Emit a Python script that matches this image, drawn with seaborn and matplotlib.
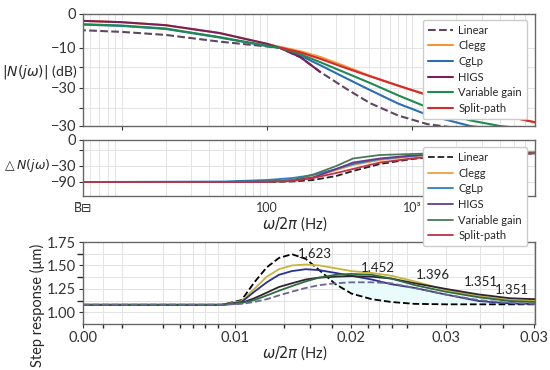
import numpy as np
import matplotlib
import matplotlib.pyplot as plt
import seaborn as sns
from matplotlib.ticker import FixedLocator, NullFormatter, LogLocator

matplotlib.use("Agg")

# --- data ---
names = ["Linear", "Clegg", "CgLp", "HIGS", "Variable gain", "Split-path"]

# magnitude (dB) vs frequency (Hz)
freq_mag = [5, 10, 20, 47, 100, 123, 170, 232, 350, 513, 800, 1270, 2500, 4000, 7000]
mag_linear = [-4.3, -4.8, -5.6, -7.4, -8.7, -9.1, -11.6, -15.5, -20.0, -23.9, -27.2, -29.5, -31, -31.5, -32]
mag_clegg = [-1.8, -2.2, -3.0, -5.1, -8.0, -8.8, -10.0, -11.5, -14.1, -16.6, -19.2, -21.7, -25, -27, -29]
mag_cglp = [-2.8, -3.2, -4.0, -6.3, -8.6, -9.1, -11.2, -13.7, -17.2, -20.4, -24.0, -27.0, -30, -31, -32]
mag_higs = [-1.8, -2.2, -3.0, -5.1, -8.0, -9.1, -11.6, -15.5, np.nan, np.nan, np.nan, np.nan, np.nan, np.nan, np.nan]
mag_vgain = [-2.7, -3.1, -3.9, -6.2, -8.5, -9.1, -10.8, -12.9, -15.8, -18.5, -21.8, -25.0, -28.5, -30, -31]
mag_split = [np.nan, np.nan, np.nan, np.nan, np.nan, -9.0, -10.3, -12.0, -14.5, -16.7, -19.2, -21.7, -25, -27, -29]

# phase vs frequency (Hz), in the panel's own units
freq_ph = [5, 50, 100, 150, 208, 300, 391, 600, 1000, 1270, 2000, 7000]
ph_linear = [-84, -84, -84, -83, -80, -72, -62, -48, -38, -35, -31, -27]
ph_clegg = [-84, -84, -83, -80, -74, -60, -50, -40, -33, -30, -28, -26]
ph_cglp = [-84, -83, -80, -76, -70, -58, -48, -38, -32, -29, -27, -25]
ph_higs = [-84, -84, -83, -81, -75, -58, -45, -37, -31, -30, -28, -26]
ph_vgain = [-84, -84, -83, -80, -69, -52, -37, -30, -28, -27, -26, -25]
ph_split = [-84, -84, -84, -82, -76, -66, -58, -45, -37, -34, -30, -27]

# step response (um) vs x
t_step = [0, 0.009, 0.0105, 0.0115, 0.0125, 0.0135, 0.0146, 0.0158, 0.017, 0.0185,
          0.02, 0.022, 0.024, 0.0265, 0.03, 0.034, 0.038, 0.0414]
st_linear = [1.08, 1.08, 1.13, 1.32, 1.48, 1.58, 1.62, 1.57, 1.45, 1.30, 1.20, 1.14, 1.11, 1.09, 1.085, 1.085, 1.085, 1.085]
st_clegg = [1.08, 1.08, 1.12, 1.25, 1.38, 1.46, 1.50, 1.51, 1.50, 1.47, 1.44, 1.42, 1.39, 1.33, 1.24, 1.17, 1.13, 1.12]
st_cglp = [1.08, 1.08, 1.11, 1.22, 1.32, 1.40, 1.44, 1.46, 1.45, 1.42, 1.39, 1.35, 1.30, 1.26, 1.19, 1.12, 1.095, 1.09]
st_higs = [1.08, 1.08, 1.10, 1.15, 1.21, 1.27, 1.31, 1.35, 1.37, 1.38, 1.385, 1.38, 1.36, 1.31, 1.25, 1.19, 1.15, 1.14]
st_vgain = [1.08, 1.08, 1.10, 1.13, 1.18, 1.23, 1.28, 1.33, 1.37, 1.40, 1.41, 1.40, 1.36, 1.29, 1.22, 1.16, 1.12, 1.11]
st_split = [1.08, 1.08, 1.09, 1.11, 1.14, 1.18, 1.22, 1.26, 1.29, 1.31, 1.32, 1.32, 1.31, 1.26, 1.19, 1.13, 1.10, 1.09]

peak_labels = ["1.623", "1.452", "1.396", "1.351", "1.351"]
peak_x = [0.0166, 0.0226, 0.0285, 0.0342, 0.0383]
peak_y = [1.625, 1.469, 1.396, 1.323, 1.24]

sns.set_theme(style="ticks")
plt.rcParams["font.family"] = ["Lato", "DejaVu Sans"]
plt.rcParams["mathtext.fontset"] = "dejavusans"

fig = plt.figure(figsize=(5.5, 3.7), dpi=100)
ax1 = fig.add_axes([0.1509, 0.6595, 0.8218, 0.3027])
ax2 = fig.add_axes([0.1509, 0.4703, 0.8218, 0.1514])
ax3 = fig.add_axes([0.1509, 0.1243, 0.8218, 0.2216])
ax2.set_zorder(3)

grid_c = "#e4e4e4"
spine_c = "#666666"
fs = 10.5
leg_kw = dict(fontsize=8, frameon=True, edgecolor="#cccccc", framealpha=1,
              handlelength=2.2, handletextpad=0.5, labelspacing=0.42,
              borderpad=0.45, borderaxespad=0)


def style_axes(ax):
    for s in ax.spines.values():
        s.set_color(spine_c)
        s.set_linewidth(1.0)
    ax.tick_params(colors="#333333", labelsize=fs, length=3, width=0.8, pad=2)
    ax.grid(True, which="both", color=grid_c, linewidth=0.7)
    ax.set_axisbelow(True)


# ---- magnitude ----
mag_cols = ["#5e4660", "#f5953a", "#2a6fb0", "#7a1f5e", "#1f8a50", "#d42a2a"]
mag_series = [mag_linear, mag_clegg, mag_cglp, mag_higs, mag_vgain, mag_split]
for name, vals, col in zip(names, mag_series, mag_cols):
    sns.lineplot(x=freq_mag, y=vals, ax=ax1, color=col, lw=1.5, label=name,
                 linestyle="--" if name == "Linear" else "-")
ax1.set_xscale("log")
ax1.set_xlim(5.4, 7000)
ax1.set_ylim(-30, 0)
ax1.set_yticks([0, -9.1, -14.2, -19.8, -25.2, -30])
ax1.set_yticklabels(["0", "\u221210", "", "\u221230", "", "\u221230"])
ax1.xaxis.set_minor_locator(LogLocator(subs=np.arange(2, 10)))
ax1.xaxis.set_major_formatter(NullFormatter())
ax1.xaxis.set_minor_formatter(NullFormatter())
ax1.tick_params(axis="x", which="both", length=0)
ax1.set_ylabel(r"$|N(j\omega)|$ (dB)", rotation=0, fontsize=fs - 0.5, ha="center", va="center")
ax1.yaxis.set_label_coords(-0.095, 0.48)
style_axes(ax1)
ax1.legend(loc="upper right", bbox_to_anchor=(0.982, 0.95), **leg_kw)

# ---- phase ----
ph_cols = ["#222222", "#eba040", "#2a80c0", "#6a3a8a", "#4a7a5a", "#c0304a"]
ph_series = [ph_linear, ph_clegg, ph_cglp, ph_higs, ph_vgain, ph_split]
for name, vals, col in zip(names, ph_series, ph_cols):
    sns.lineplot(x=freq_ph, y=vals, ax=ax2, color=col, lw=1.3, label=name,
                 linestyle="--" if name == "Linear" else "-")
ax2.set_xscale("log")
ax2.set_xlim(5.4, 7000)
ax2.set_ylim(-112, 0)
ax2.set_yticks([0, -20, -52, -84])
ax2.set_yticklabels(["0", "", "\u221230", "\u221290"])
ax2.xaxis.set_minor_locator(LogLocator(subs=np.arange(2, 10)))
ax2.xaxis.set_minor_formatter(NullFormatter())
ax2.set_xticks([5.4, 100, 1000])
ax2.set_xticklabels(["B\u0303\u229f", "100", "10\u00b3"])
ax2.set_ylabel(r"$\triangle N(j\omega)$", rotation=0, fontsize=9, ha="center", va="center")
ax2.yaxis.set_label_coords(-0.125, 0.55)
ax2.set_xlabel("")
style_axes(ax2)
ax2.tick_params(axis="x", which="both", length=0, labelsize=9, pad=4)
ax2.legend(loc="upper right", bbox_to_anchor=(0.982, 0.875), **leg_kw)
fig.text(295 / 550, 1 - 224 / 370, r"$\omega/2\pi$ (Hz)", fontsize=fs,
         ha="center", va="center")

# ---- step response ----
st_cols = ["black", "#c8b43c", "#2a2f96", "#2e2430", "#2f6b3c", "#6b6890"]
st_series = [st_linear, st_clegg, st_cglp, st_higs, st_vgain, st_split]
ax3.fill_between(t_step, st_linear, st_cglp,
                 where=np.array(st_cglp) > np.array(st_linear),
                 color="#e9fbfb", lw=0, interpolate=True)
for name, vals, col in zip(names, st_series, st_cols):
    sns.lineplot(x=t_step, y=vals, ax=ax3, color=col, lw=1.3, legend=False,
                 linestyle="--" if name in ("Linear", "Split-path") else "-")
ax3.set_xscale("function", functions=(lambda v: np.log1p(np.asarray(v) / 0.028),
                                      lambda v: 0.028 * np.expm1(np.asarray(v))))
ax3.set_xlim(0, 0.0414)
ax3.set_ylim(0.875, 1.75)
ax3.set_xticks([0, 0.01, 0.02, 0.03, 0.0412])
ax3.set_xticklabels(["0.00", "0.01", "0.02", "0.03", "0.03"])
ax3.set_yticks([1.0, 1.25, 1.5, 1.75])
ax3.set_yticklabels(["1.00", "1.25", "1.50", "1.75"])
ax3.xaxis.set_minor_locator(FixedLocator([0.00115, 0.0023, 0.0049, 0.006, 0.0069, 0.0078, 0.0087,
                                          0.0139, 0.0162, 0.0182, 0.0216, 0.0227, 0.0241, 0.0257,
                                          0.0342, 0.0371]))
ax3.yaxis.set_minor_locator(FixedLocator([1.125, 1.375, 1.625]))
for lab, xv, yv in zip(peak_labels, peak_x, peak_y):
    ax3.text(xv, yv, lab, ha="center", va="center", fontsize=9.5, color="#222222")
ax3.set_ylabel("Step response (\u03bcm)", fontsize=fs, va="center")
ax3.yaxis.set_label_coords(-0.1, 0.23)
ax3.set_xlabel("")
fig.text(295 / 550, 1 - 353 / 370, r"$\omega/2\pi$ (Hz)", fontsize=fs,
         ha="center", va="center")
style_axes(ax3)
ax3.tick_params(axis="x", which="minor", length=3)

fig.savefig("out.png", dpi=100)
